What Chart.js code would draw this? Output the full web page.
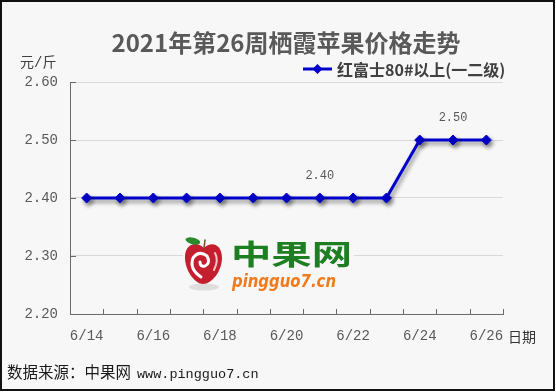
<!DOCTYPE html>
<html>
<head>
<meta charset="utf-8">
<script src="https://cdn.jsdelivr.net/npm/chart.js@4/dist/chart.umd.min.js"></script>
<style>
  html, body { margin: 0; padding: 0; width: 556px; height: 392px; background: #fff; overflow: hidden; }
  #frame { position: absolute; left: 0; top: 0; width: 555px; height: 391px; box-sizing: border-box;
           border: 2px solid #111; background: #f7f7f7; }
  #wrap { position: absolute; left: 0; top: 0; width: 556px; height: 392px; }
  .t { position: absolute; white-space: nowrap; line-height: 1; }
  #title { left: 286px; top: 24px; transform: translateX(-50%); font: bold 24px "Noto Sans CJK SC", sans-serif; color: #595959; }
  #unit { left: 20px; top: 51px; font: 14px "Liberation Mono", "Noto Sans CJK SC", monospace; color: #404040; }
  #xname { left: 508px; top: 326px; font: 14px "Noto Sans CJK SC", sans-serif; color: #333; }
  #legend { left: 303px; top: 57px; font: bold 16px "Noto Sans CJK SC", sans-serif; color: #404040; display: flex; align-items: center; }
  #legend svg { margin-right: 5px; }
  #footer { left: 7px; top: 360px; color: #1a1a1a; }
  #footer .cn { font: 15.5px "Noto Sans CJK SC", sans-serif; }
  #footer .url { font: 13.5px "Liberation Mono", monospace; margin-left: 6px; }
</style>
</head>
<body>
<div id="frame"></div>
<div id="wrap"><canvas id="c" width="556" height="392"></canvas></div>
<div class="t" id="title">2021年第26周栖霞苹果价格走势</div>
<div class="t" id="unit">元/斤</div>
<div class="t" id="legend"><svg width="29" height="10"><line x1="0" y1="5" x2="29" y2="5" stroke="#0000cd" stroke-width="3"/><polygon points="14.5,0 19.5,5 14.5,10 9.5,5" fill="#0000cd"/></svg><span id="legendText"></span></div>
<div class="t" id="xname">日期</div>
<div class="t" id="footer"><span class="cn">数据来源：中果网</span><span class="url">www.pingguo7.cn</span></div>
<script>
// ---- data ----
const categories = ['6/14','6/15','6/16','6/17','6/18','6/19','6/20','6/21','6/22','6/23','6/24','6/25','6/26'];
const seriesName = '红富士80#以上(一二级)';
const prices = [2.40, 2.40, 2.40, 2.40, 2.40, 2.40, 2.40, 2.40, 2.40, 2.40, 2.50, 2.50, 2.50];
const pointLabels = [null, null, null, null, null, null, null, '2.40', null, null, null, '2.50', null];
const yMin = 2.20, yMax = 2.60, yStep = 0.10;

document.getElementById('legendText').textContent = seriesName;

const BG = '#f7f7f7';
const AXIS = '#6b6b6b';

const logoPlugin = {
  id: 'logo',
  beforeDatasetsDraw(chart) {
    const ctx = chart.ctx;
    ctx.save();
    // opaque logo background
    ctx.fillStyle = BG;
    ctx.fillRect(183, 230, 171, 70);
    // shadow under apple
    ctx.fillStyle = 'rgba(0,0,0,0.10)';
    ctx.beginPath(); ctx.ellipse(204, 287, 15, 3.5, 0, 0, Math.PI * 2); ctx.fill();
    // apple body
    ctx.fillStyle = '#c41f2f';
    ctx.beginPath();
    ctx.moveTo(204, 248);
    ctx.bezierCurveTo(196, 240, 184, 244, 185, 259);
    ctx.bezierCurveTo(186, 273, 196, 284, 203, 284);
    ctx.bezierCurveTo(212, 284, 222, 271, 222, 258);
    ctx.bezierCurveTo(222, 244, 211, 241, 204, 248);
    ctx.fill();
    // swirl
    ctx.strokeStyle = '#fff'; ctx.lineWidth = 3; ctx.lineCap = 'round';
    ctx.beginPath();
    ctx.moveTo(201, 277);
    ctx.quadraticCurveTo(189, 269, 193, 258);
    ctx.quadraticCurveTo(199, 250, 207, 256);
    ctx.quadraticCurveTo(211, 263, 205, 266);
    ctx.quadraticCurveTo(200, 267, 200, 262);
    ctx.stroke();
    ctx.strokeStyle = '#f3c6cb'; ctx.lineWidth = 2;
    ctx.beginPath(); ctx.moveTo(215, 253); ctx.quadraticCurveTo(219, 260, 214, 270); ctx.stroke();
    // stem
    ctx.strokeStyle = '#7a4a1a'; ctx.lineWidth = 1.5;
    ctx.beginPath(); ctx.moveTo(204, 248); ctx.lineTo(205, 240); ctx.stroke();
    // leaf
    ctx.fillStyle = '#2b8a2b';
    ctx.beginPath(); ctx.ellipse(193, 241, 7.5, 3.3, 0.25, 0, Math.PI * 2); ctx.fill();
    // 中果网
    ctx.fillStyle = '#1d7f21';
    ctx.font = 'bold 30px "Noto Sans CJK SC", sans-serif';
    ctx.textBaseline = 'middle'; ctx.textAlign = 'left';
    let w = ctx.measureText('中果网').width;
    ctx.save(); ctx.translate(231, 254); ctx.scale(121 / w, 0.95); ctx.fillText('中果网', 0, 0); ctx.restore();
    // pingguo7.cn
    ctx.fillStyle = '#f07a1c';
    ctx.font = 'italic bold 17px "DejaVu Sans", sans-serif';
    w = ctx.measureText('pingguo7.cn').width;
    ctx.save(); ctx.translate(232, 283); ctx.scale(104 / w, 1); ctx.fillText('pingguo7.cn', 0, 0); ctx.restore();
    ctx.restore();

    // inner tick marks
    const xs = chart.scales.x, ys = chart.scales.y, a = chart.chartArea;
    ctx.save();
    ctx.strokeStyle = AXIS; ctx.lineWidth = 1;
    ctx.beginPath();
    ys.ticks.forEach(t => {
      const y = Math.round(ys.getPixelForValue(t.value)) + 0.5;
      ctx.moveTo(a.left, y); ctx.lineTo(a.left + 6, y);
    });
    const half = (xs.getPixelForValue(1) - xs.getPixelForValue(0)) / 2;
    for (let i = 0; i <= categories.length; i++) {
      const x = Math.round(xs.getPixelForValue(i) - half) + 0.5;
      ctx.moveTo(x, a.bottom); ctx.lineTo(x, a.bottom - 5);
    }
    ctx.stroke();
    ctx.restore();
  },
  beforeDatasetDraw(chart) {
    const ctx = chart.ctx;
    ctx.save();
    ctx.shadowColor = 'rgba(0,0,0,0.45)';
    ctx.shadowBlur = 4;
    ctx.shadowOffsetX = 2;
    ctx.shadowOffsetY = 3;
  },
  afterDatasetDraw(chart) {
    chart.ctx.restore();
  },
  afterDatasetsDraw(chart) {
    const ctx = chart.ctx;
    const meta = chart.getDatasetMeta(0);
    ctx.save();
    ctx.fillStyle = '#595959';
    ctx.font = '12px "Liberation Mono", monospace';
    ctx.textAlign = 'center'; ctx.textBaseline = 'middle';
    pointLabels.forEach((lab, i) => {
      if (lab == null) return;
      const p = meta.data[i];
      ctx.fillText(lab, p.x, p.y - 22);
    });
    ctx.restore();
  }
};

new Chart(document.getElementById('c'), {
  type: 'line',
  data: {
    labels: categories,
    datasets: [{
      label: seriesName,
      data: prices,
      borderColor: '#0000cd',
      backgroundColor: '#0000cd',
      borderWidth: 3,
      pointStyle: 'rectRot',
      pointRadius: 5,
      pointBackgroundColor: '#0000cd',
      pointBorderColor: '#0000cd',
      pointBorderWidth: 1,
      tension: 0,
      fill: false
    }]
  },
  options: {
    responsive: false,
    animation: false,
    devicePixelRatio: 1,
    layout: { padding: { top: 82, right: 53, left: 0, bottom: 0 } },
    plugins: { legend: { display: false }, title: { display: false }, tooltip: { enabled: false } },
    scales: {
      x: {
        type: 'category',
        offset: true,
        afterFit(s) { s.height = 78; },
        grid: { display: false, drawTicks: false },
        border: { display: true, color: AXIS, width: 1 },
        ticks: {
          autoSkip: false, maxRotation: 0, padding: 14,
          color: '#595959',
          font: { family: '"Liberation Mono", monospace', size: 14 },
          callback(v, i) { return i % 2 === 0 ? categories[i] : ''; }
        }
      },
      y: {
        min: yMin, max: yMax,
        afterFit(s) { s.width = 70; },
        grid: { color: '#d9d9d9', drawTicks: false, lineWidth: 1 },
        border: { display: true, color: AXIS, width: 1 },
        ticks: {
          stepSize: yStep, padding: 12,
          color: '#595959',
          font: { family: '"Liberation Mono", monospace', size: 14 },
          callback(v) { return Number(v).toFixed(2); }
        }
      }
    }
  },
  plugins: [logoPlugin]
});
</script>
</body>
</html>
